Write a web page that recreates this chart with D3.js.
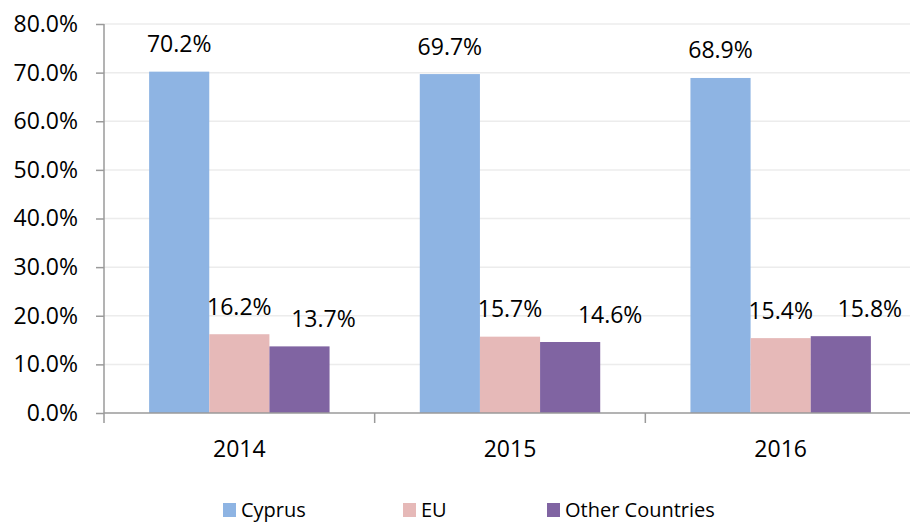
<!DOCTYPE html>
<html><head><meta charset="utf-8">
<script src="https://cdn.jsdelivr.net/npm/d3@7"></script>
<style>body{margin:0;background:#fff}svg{display:block}text{font-family:"Open Sans",sans-serif;fill:#000}</style>
</head><body><svg id="c" width="910" height="524"></svg>
<script>
const categories = ["2014","2015","2016"];
const seriesNames = ["Cyprus","EU","Other Countries"];
const cyprus = [70.2,69.7,68.9];
const eu = [16.2,15.7,15.4];
const other = [13.7,14.6,15.8];
const yTicks = [0,10,20,30,40,50,60,70,80];
const colors = ["#8eb4e3","#e6b9b8","#8064a2"];
const values = [cyprus, eu, other];
// manual horizontal nudges of data labels (layout only)
const labelDx = [[0,0,0],[0,0,0],[24,40,29]];

(function(){
const svg = d3.select("#c");
const pL = 104, pR = 916, pT = 24, pB = 413;
const x = d3.scaleBand().domain(categories).range([pL, pR]).paddingInner(0).paddingOuter(0);
const y = d3.scaleLinear().domain([0,80]).range([pB, pT]);
const inner = d3.scaleBand().domain(seriesNames).range([0, x.bandwidth()]).paddingInner(0).paddingOuter(0.75);
const fs = 23;

svg.append("g").selectAll("line").data(yTicks.slice(1)).join("line")
  .attr("x1", pL).attr("x2", pR).attr("y1", d=>y(d)).attr("y2", d=>y(d))
  .attr("stroke", "#ececec").attr("stroke-width", 1.5);

seriesNames.forEach((s,i)=>{
  svg.append("g").selectAll("rect").data(categories).join("rect")
    .attr("x", c=>x(c)+inner(s)).attr("width", inner.bandwidth())
    .attr("y", (c,j)=>y(values[i][j])).attr("height", (c,j)=>pB - y(values[i][j]))
    .attr("fill", colors[i]);
  svg.append("g").selectAll("text").data(categories).join("text")
    .attr("x", (c,j)=>x(c)+inner(s)+inner.bandwidth()/2 + labelDx[i][j])
    .attr("y", (c,j)=>y(values[i][j]) - 19.5)
    .attr("text-anchor","middle").attr("font-size", fs)
    .text((c,j)=>values[i][j].toFixed(1)+"%");
});

const yAxis = d3.axisLeft(y).tickValues(yTicks).tickFormat(d=>d.toFixed(1)+"%").tickSize(8).tickPadding(18);
const gy = svg.append("g").attr("transform",`translate(${pL},0)`).call(yAxis);
gy.selectAll("text").attr("font-size", fs).style("font-family","'Open Sans',sans-serif").attr("fill","#000");
gy.selectAll("line,path").attr("stroke","#9a9a9a").attr("stroke-width",1.5);
gy.select(".domain").attr("d", `M0,${pT}V${pB}`);

const gx = svg.append("g").attr("transform",`translate(0,${pB})`);
gx.append("line").attr("x1",pL).attr("x2",pR).attr("stroke","#9a9a9a").attr("stroke-width",1.5);
const bounds = categories.map(c=>x(c)).concat([x(categories[categories.length-1])+x.bandwidth()]);
gx.selectAll("line.t").data(bounds).join("line").attr("class","t")
  .attr("x1",d=>d).attr("x2",d=>d).attr("y1",0).attr("y2",10)
  .attr("stroke","#9a9a9a").attr("stroke-width",1.5);
gx.selectAll("text").data(categories).join("text")
  .attr("x", c=>x(c)+x.bandwidth()/2).attr("y", 44)
  .attr("text-anchor","middle").attr("font-size", fs).text(c=>c);

const legX = [223, 403, 547];
const lg = svg.append("g");
seriesNames.forEach((s,i)=>{
  lg.append("rect").attr("x", legX[i]).attr("y", 503).attr("width", 13).attr("height", 14).attr("fill", colors[i]);
  lg.append("text").attr("x", legX[i]+18).attr("y", 517).attr("font-size", 20).text(s);
});
})();
</script></body></html>
